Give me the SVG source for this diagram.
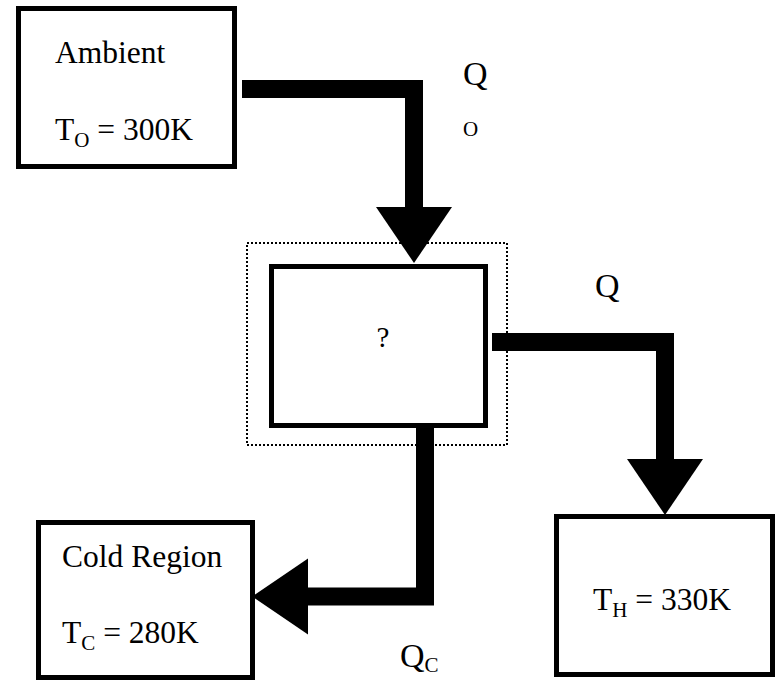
<svg xmlns="http://www.w3.org/2000/svg" width="775" height="681" viewBox="0 0 775 681">
  <style>
    .box { fill: #ffffff; stroke: #000000; stroke-width: 5; }
    .dotted { fill: none; stroke: #000000; stroke-width: 2; stroke-dasharray: 2 2; }
    .lbl { font-family: "Liberation Serif", "Times New Roman", serif; fill: #000000; }
    .big { font-size: 31.5px; }
    .q { font-size: 34px; }
    .sub { font-size: 21px; }
    .flow { fill: none; stroke: #000000; stroke-width: 18; stroke-linejoin: miter; stroke-linecap: butt; marker-end: url(#head); }
  </style>
  <defs>
    <marker id="head" markerUnits="userSpaceOnUse" markerWidth="56" markerHeight="76" refX="0" refY="38" orient="auto" overflow="visible">
      <path d="M0,0 L56,38 L0,76 Z" fill="#000000"/>
    </marker>
  </defs>
  <rect width="775" height="681" fill="#ffffff"/>

  <g id="ambient">
    <rect class="box" x="18.5" y="8.5" width="216" height="158"/>
    <text class="lbl big" x="55" y="63">Ambient</text>
    <text class="lbl big" x="55" y="140">T<tspan class="sub" dy="7">O</tspan><tspan dy="-7"> = 300K</tspan></text>
  </g>

  <g id="device">
    <rect class="dotted" x="247" y="243" width="260" height="202"/>
    <rect class="box" x="271.5" y="266.5" width="214" height="159"/>
    <text class="lbl" x="383" y="347" font-size="29" text-anchor="middle">?</text>
  </g>

  <g id="cold">
    <rect class="box" x="38.5" y="522.5" width="214" height="155"/>
    <text class="lbl big" x="62" y="567">Cold Region</text>
    <text class="lbl big" x="62" y="643">T<tspan class="sub" dy="7">C</tspan><tspan dy="-7"> = 280K</tspan></text>
  </g>

  <g id="hot">
    <rect class="box" x="556.5" y="516.5" width="216" height="158"/>
    <text class="lbl big" x="593" y="610">T<tspan class="sub" dy="7">H</tspan><tspan dy="-7"> = 330K</tspan></text>
  </g>

  <g id="labels">
    <text class="lbl q" x="463" y="85">Q</text>
    <text class="lbl sub" x="463" y="136">O</text>
    <text class="lbl q" x="595" y="297">Q</text>
    <text class="lbl sub" x="595" y="347">H</text>
    <text class="lbl q" x="400" y="667">Q<tspan class="sub" dy="5">C</tspan></text>
  </g>

  <g id="connectors">
    <path class="flow" d="M242,89 H414 V207"/>
    <path class="flow" d="M492,342 H665 V459"/>
    <path class="flow" d="M425,428 V596.5 H308"/>
  </g>
</svg>
